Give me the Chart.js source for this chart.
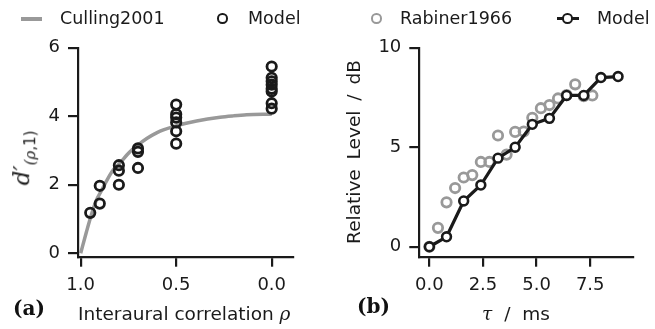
<!DOCTYPE html>
<html>
<head>
<meta charset="utf-8">
<script src="https://cdn.jsdelivr.net/npm/chart.js@4.4.1/dist/chart.umd.min.js"></script>
<style>
  body { margin: 0; background: #fff; }
  #wrap { position: relative; width: 655px; height: 329px; overflow: hidden; font-family: 'DejaVu Sans', sans-serif; color: #1a1a1a; }
  canvas { position: absolute; top: 0; }
  .t { position: absolute; white-space: nowrap; line-height: 1; }
  .leg { font-size: 17.5px; }
  .ttl { font-size: 18.5px; }
  .rot { transform: translate(-50%, -50%) rotate(-90deg); }
  .math { font-family: 'DejaVu Serif', serif; font-style: italic; }
  .panel { font-family: 'DejaVu Serif', serif; font-weight: bold; font-size: 20px; color: #111; }
  .circ { position: absolute; width: 6.5px; height: 6.5px; border-radius: 50%; border: 2.8px solid #1a1a1a; background: transparent; }
  .bar { position: absolute; height: 3.5px; }
</style>
</head>
<body>
<div id="wrap">
  <canvas id="left" width="330" height="329" style="left:0"></canvas>
  <canvas id="right" width="325" height="329" style="left:330px"></canvas>

  <!-- legend (a) -->
  <div class="bar" style="left:21px;top:17px;width:21px;background:#999"></div>
  <div class="t leg" style="left:60px;top:10px">Culling2001</div>
  <div class="circ" style="left:217px;top:13px"></div>
  <div class="t leg" style="left:248px;top:10px">Model</div>

  <!-- legend (b) -->
  <div class="circ" style="left:371px;top:13px;border-color:#999"></div>
  <div class="t leg" style="left:400px;top:10px">Rabiner1966</div>
  <div class="bar" style="left:557px;top:16.5px;width:22px;background:#1a1a1a"></div>
  <div class="circ" style="left:562px;top:13px;background:#fff"></div>
  <div class="t leg" style="left:597px;top:10px">Model</div>

  <!-- axis titles -->
  <div class="t rot" style="left:24px;top:158px;font-size:23px"><span class="math">d′</span><sub style="font-size:15px"><span class="math">(ρ</span>,1)</sub></div>
  <div class="t ttl" style="left:78px;top:305px">Interaural correlation <span class="math">ρ</span></div>
  <div class="t ttl rot" style="left:354px;top:152px;word-spacing:4px">Relative Level / dB</div>
  <div class="t ttl" style="left:482px;top:305px;word-spacing:6px"><span class="math">τ</span> / ms</div>

  <div class="t panel" style="left:13px;top:298px">(a)</div>
  <div class="t panel" style="left:357px;top:296px">(b)</div>
</div>

<script>
// panel (a): interaural correlation
const cullingRho = [1.0, 0.97, 0.942, 0.92, 0.89, 0.86, 0.83, 0.8, 0.742, 0.7, 0.654, 0.6, 0.567, 0.5, 0.393, 0.27, 0.2, 0.131, 0.0];
const cullingD   = [0, 0.62, 1.16, 1.52, 1.84, 2.16, 2.43, 2.6, 2.96, 3.16, 3.35, 3.52, 3.6, 3.72, 3.86, 3.97, 4.01, 4.04, 4.06];
const modelRho = [0.95, 0.9, 0.9, 0.8, 0.8, 0.8, 0.7, 0.7, 0.7, 0.5, 0.5, 0.5, 0.5, 0.5, 0.5, 0, 0, 0, 0, 0, 0, 0, 0];
const modelD   = [1.18, 1.97, 1.45, 2.57, 2.41, 2.0, 3.06, 2.96, 2.49, 4.34, 4.06, 3.96, 3.82, 3.56, 3.2, 5.45, 5.12, 5.02, 4.92, 4.8, 4.72, 4.38, 4.22];
const leftXTicks = [1.0, 0.5, 0.0];
const leftYTicks = [0, 2, 4, 6];

// panel (b): relative level vs delay
const rabinerTau   = [0, 0.4, 0.8, 1.2, 1.6, 2.0, 2.4, 2.8, 3.2, 3.6, 4.0, 4.4, 4.8, 5.2, 5.6, 6.0, 6.4, 6.8, 7.2, 7.6];
const rabinerLevel = [0, 0.95, 2.23, 2.95, 3.48, 3.6, 4.26, 4.26, 5.59, 4.63, 5.77, 5.79, 6.48, 6.96, 7.12, 7.45, 7.62, 8.16, 7.56, 7.6];
const modelTau   = [0, 0.8, 1.6, 2.4, 3.2, 4.0, 4.8, 5.6, 6.4, 7.2, 8.0, 8.8];
const modelLevel = [0, 0.5, 2.3, 3.1, 4.45, 5.0, 6.15, 6.45, 7.6, 7.6, 8.5, 8.55];
const rightXTicks = [0, 2.5, 5, 7.5];
const rightYTicks = [0, 5, 10];

const INK = '#1a1a1a';
const GREY = '#999999';
const TICK_FONT = { family: "'DejaVu Sans', sans-serif", size: 18 };

const pts = (xs, ys) => xs.map((x, i) => ({ x, y: ys[i] }));

function axis(min, max, ticks, fmt, fit, reverse) {
  return {
    type: 'linear', min, max, reverse: !!reverse,
    afterBuildTicks: s => { s.ticks = ticks.map(v => ({ value: v })); },
    afterFit: fit,
    grid: { drawOnChartArea: false, drawTicks: true, tickLength: 10, color: INK, lineWidth: 2.2 },
    border: { display: true, color: INK, width: 2.2 },
    ticks: { font: TICK_FONT, color: INK, padding: 8, maxRotation: 0, autoSkip: false, callback: fmt }
  };
}

function makeChart(id, box, datasets, xs, ys) {
  const H = 329;
  return new Chart(document.getElementById(id), {
    type: 'scatter',
    data: { datasets },
    options: {
      responsive: false, animation: false,
      layout: { padding: { top: box.top, right: box.w - box.right, left: 0, bottom: 0 } },
      plugins: { legend: { display: false }, tooltip: { enabled: false } },
      scales: {
        x: axis(xs.min, xs.max, xs.ticks, v => v.toFixed(1), s => { s.height = H - box.bottom; }, xs.reverse),
        y: axis(ys.min, ys.max, ys.ticks, v => String(v), s => { s.width = box.left; })
      }
    }
  });
}

makeChart('left', { w: 330, left: 78, right: 292.7, top: 47.7, bottom: 256.7 }, [
  { data: pts(modelRho, modelD), pointRadius: 4.7, pointBorderWidth: 2.8, pointBorderColor: INK, pointBackgroundColor: 'rgba(0,0,0,0)' },
  { data: pts(cullingRho, cullingD), showLine: true, borderColor: GREY, borderWidth: 3.5, pointRadius: 0, cubicInterpolationMode: 'monotone' }
], { min: -0.11, max: 1.014, ticks: leftXTicks, reverse: true }, { min: -0.1, max: 6, ticks: leftYTicks });

makeChart('right', { w: 325, left: 89.3, right: 303.3, top: 47.7, bottom: 256.7 }, [
  { data: pts(modelTau, modelLevel), showLine: true, borderColor: INK, borderWidth: 3.2, pointRadius: 4.4, pointBorderWidth: 2.6, pointBorderColor: INK, pointBackgroundColor: '#fff' },
  { data: pts(rabinerTau, rabinerLevel), pointRadius: 4.7, pointBorderWidth: 2.8, pointBorderColor: GREY, pointBackgroundColor: 'rgba(0,0,0,0)' }
], { min: -0.47, max: 9.51, ticks: rightXTicks }, { min: -0.5, max: 10, ticks: rightYTicks });
</script>
</body>
</html>
